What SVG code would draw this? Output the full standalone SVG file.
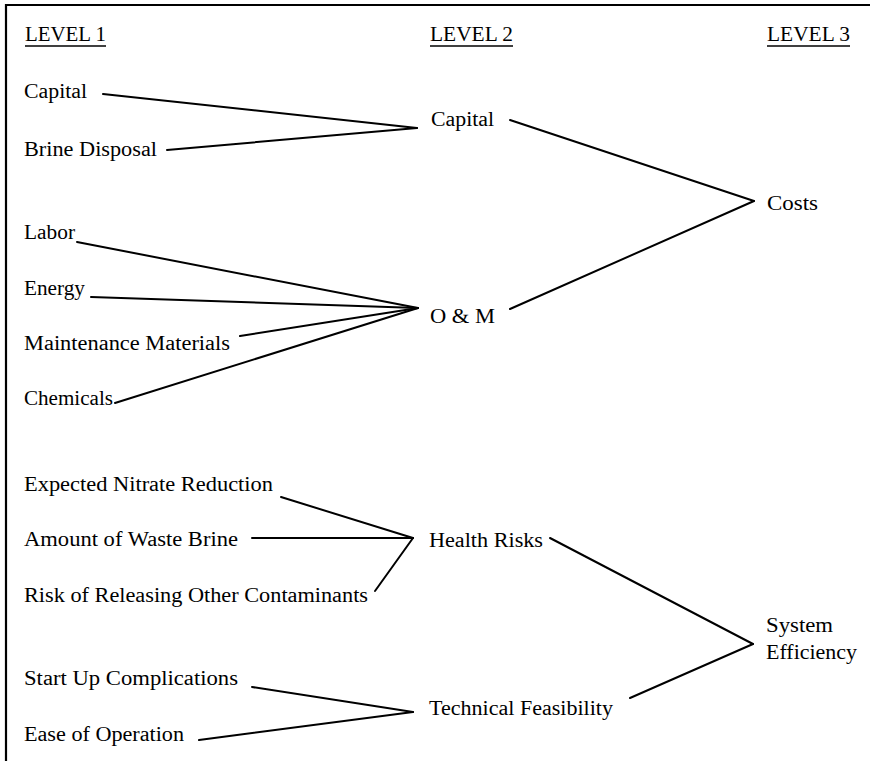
<svg xmlns="http://www.w3.org/2000/svg" width="870" height="761" viewBox="0 0 870 761">
<style>
text{font-family:"Liberation Serif","Times New Roman",serif;font-size:20px;fill:#000}
.c line{stroke:#000;stroke-width:2;stroke-linecap:round}
.u{stroke:#000;stroke-width:1.6}
.frame{stroke:#000;stroke-width:2.2;fill:none}
</style>
<rect width="870" height="761" fill="#fff"/>
<path class="frame" d="M6,761 V5 H870"/>
<g id="headers">
<text x="25" y="41" textLength="81" lengthAdjust="spacingAndGlyphs">LEVEL 1</text>
<line class="u" x1="25" y1="46" x2="106" y2="46"/>
<text x="430" y="41" textLength="83" lengthAdjust="spacingAndGlyphs">LEVEL 2</text>
<line class="u" x1="430" y1="46" x2="513" y2="46"/>
<text x="767" y="41" textLength="83" lengthAdjust="spacingAndGlyphs">LEVEL 3</text>
<line class="u" x1="767" y1="46" x2="850" y2="46"/>
</g>
<g id="n-capital1"><text x="24" y="98" textLength="63" lengthAdjust="spacingAndGlyphs">Capital</text></g>
<g id="n-brine"><text x="24" y="156" textLength="133" lengthAdjust="spacingAndGlyphs">Brine Disposal</text></g>
<g id="n-capital2"><text x="431" y="126" textLength="63" lengthAdjust="spacingAndGlyphs">Capital</text></g>
<g id="n-costs"><text x="767" y="210" textLength="51" lengthAdjust="spacingAndGlyphs">Costs</text></g>
<g id="n-labor"><text x="24" y="239" textLength="51" lengthAdjust="spacingAndGlyphs">Labor</text></g>
<g id="n-energy"><text x="24" y="295" textLength="61" lengthAdjust="spacingAndGlyphs">Energy</text></g>
<g id="n-maint"><text x="24" y="350" textLength="206" lengthAdjust="spacingAndGlyphs">Maintenance Materials</text></g>
<g id="n-om"><text x="430" y="323" textLength="65" lengthAdjust="spacingAndGlyphs">O &amp; M</text></g>
<g id="n-chem"><text x="24" y="405" textLength="89" lengthAdjust="spacingAndGlyphs">Chemicals</text></g>
<g id="n-nitrate"><text x="24" y="491" textLength="249" lengthAdjust="spacingAndGlyphs">Expected Nitrate Reduction</text></g>
<g id="n-waste"><text x="24" y="546" textLength="214" lengthAdjust="spacingAndGlyphs">Amount of Waste Brine</text></g>
<g id="n-risk"><text x="24" y="602" textLength="344" lengthAdjust="spacingAndGlyphs">Risk of Releasing Other Contaminants</text></g>
<g id="n-health"><text x="429" y="547" textLength="114" lengthAdjust="spacingAndGlyphs">Health Risks</text></g>
<g id="n-startup"><text x="24" y="685" textLength="214" lengthAdjust="spacingAndGlyphs">Start Up Complications</text></g>
<g id="n-ease"><text x="24" y="741" textLength="160" lengthAdjust="spacingAndGlyphs">Ease of Operation</text></g>
<g id="n-tech"><text x="429" y="715" textLength="184" lengthAdjust="spacingAndGlyphs">Technical Feasibility</text></g>
<g id="n-sys"><text x="766" y="632" textLength="67" lengthAdjust="spacingAndGlyphs">System</text><text x="766" y="659" textLength="91" lengthAdjust="spacingAndGlyphs">Efficiency</text></g>
<g id="connectors" class="c">
<line x1="103" y1="94" x2="417" y2="128"/>
<line x1="167" y1="150" x2="417" y2="128"/>
<line x1="510" y1="120" x2="754" y2="201"/>
<line x1="510" y1="309" x2="754" y2="201"/>
<line x1="77" y1="242" x2="418" y2="308"/>
<line x1="91" y1="297" x2="418" y2="308"/>
<line x1="240" y1="336" x2="418" y2="308"/>
<line x1="115" y1="403" x2="418" y2="308"/>
<line x1="281" y1="497" x2="413" y2="538"/>
<line x1="252" y1="538" x2="413" y2="538"/>
<line x1="375" y1="591" x2="413" y2="538"/>
<line x1="252" y1="687" x2="413" y2="712"/>
<line x1="199" y1="740" x2="413" y2="712"/>
<line x1="550" y1="538" x2="753" y2="644"/>
<line x1="630" y1="698" x2="753" y2="644"/>
</g>
</svg>
